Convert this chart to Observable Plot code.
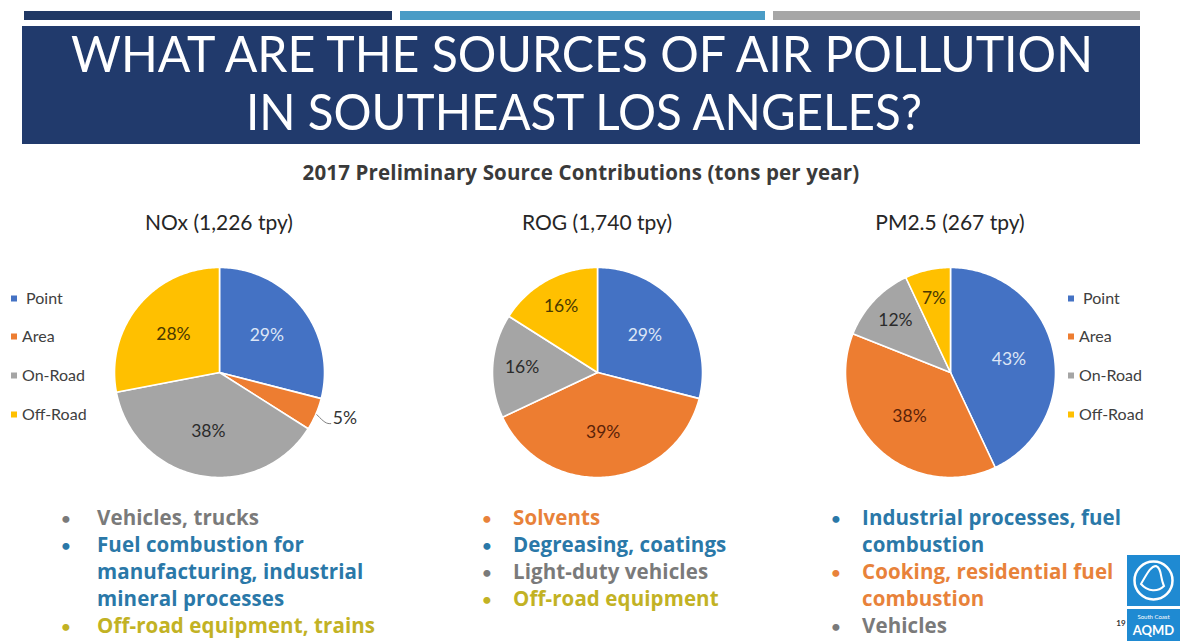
<!DOCTYPE html>
<html>
<head>
<meta charset="utf-8">
<script src="https://cdn.jsdelivr.net/npm/d3@7"></script>
<script src="https://cdn.jsdelivr.net/npm/@observablehq/plot@0.6"></script>
<style>
  html, body { margin: 0; padding: 0; background: #ffffff; }
  body { width: 1190px; height: 641px; position: relative; overflow: hidden; font-family: Lato, "Open Sans", sans-serif; }
  .abs { position: absolute; white-space: nowrap; }
  .sub { font-family: "Open Sans"; font-weight: 700; font-size: 20.5px; letter-spacing: 0.15px; color: #3a3a3a; transform: translate(-50%, -50%); }
  .ptitle { font-size: 21px; color: #262626; transform: translate(-50%, -50%); }
  .leg { font-size: 16px; color: #404040; transform: translateY(-50%); }
  .leg i { display: inline-block; width: 6px; height: 6px; margin-right: 5px; vertical-align: middle; position: relative; top: -1px; }
  .bul { font-family: "Open Sans"; font-weight: 700; font-size: 20.5px; transform: translateY(-50%); letter-spacing: 0.1px; }
  .dot { font-weight: 700; font-size: 16px; transform: translate(-50%, -50%); }
</style>
</head>
<body>
<svg class="abs" style="left:0;top:0" width="1190" height="641">
  <rect x="24" y="11" width="368" height="9" fill="#203864"/>
  <rect x="400" y="11" width="365" height="9" fill="#4a9cc6"/>
  <rect x="773" y="11" width="367" height="9" fill="#a6a6a6"/>
  <rect x="22" y="26" width="1118" height="118" fill="#213a6c"/>
  <text x="71" y="72" font-family="Lato" font-weight="400" font-size="51" fill="#ffffff" textLength="1022" lengthAdjust="spacingAndGlyphs">WHAT ARE THE SOURCES OF AIR POLLUTION</text>
  <text x="246" y="130" font-family="Lato" font-weight="400" font-size="50" fill="#ffffff" textLength="676" lengthAdjust="spacingAndGlyphs">IN SOUTHEAST LOS ANGELES?</text>
  <!-- logo -->
  <rect x="1127" y="555" width="53" height="51" fill="#1f8ad2"/>
  <circle cx="1153.5" cy="580.5" r="19" fill="none" stroke="#ffffff" stroke-width="2.5"/>
  <path d="M1141,584 C1146,576 1150,566 1156,566 C1162,568 1160,578 1164,586 C1158,592 1148,592 1141,584 Z" fill="none" stroke="#ffffff" stroke-width="2"/>
  <rect x="1127" y="609" width="53" height="32" fill="#1f8ad2"/>
  <text x="1153.5" y="619" font-family="Lato" font-size="6" fill="#ffffff" text-anchor="middle">South Coast</text>
  <text x="1153.5" y="635" font-family="Lato" font-weight="700" font-size="13" fill="#ffffff" text-anchor="middle">AQMD</text>
  <text x="1121" y="626" font-family="Lato" font-weight="700" font-size="8" fill="#333333" text-anchor="middle">19</text>
</svg>
<div id="root"></div>
<script>
// ---- data ----
const categories = ["Point", "Area", "On-Road", "Off-Road"];
const sliceColors = ["#4472C4", "#ED7D31", "#A5A5A5", "#FFC000"];
const labelColors = ["#dde6f6", "#5a2208", "#2b2b2b", "#4a3800"];
const pollutantTitles = ["NOx (1,226 tpy)", "ROG (1,740 tpy)", "PM2.5 (267 tpy)"];
const noxShares = [29, 5, 38, 28];
const rogShares = [29, 39, 16, 16];
const pmShares = [43, 38, 12, 7];
const subtitle = "2017 Preliminary Source Contributions (tons per year)";
const noxBullets = [["Vehicles, trucks", "gray"], ["Fuel combustion for", "blue"], ["manufacturing, industrial", "blue", true], ["mineral processes", "blue", true], ["Off-road equipment, trains", "yellow"]];
const rogBullets = [["Solvents", "orange"], ["Degreasing, coatings", "blue"], ["Light-duty vehicles", "gray"], ["Off-road equipment", "yellow"]];
const pmBullets = [["Industrial processes, fuel", "blue"], ["combustion", "blue", true], ["Cooking, residential fuel", "orange"], ["combustion", "orange", true], ["Vehicles", "gray"]];

// ---- layout ----
const R = 105;           // pie radius in px
const PW = 300, PH = 260;
const pieCenters = [[219, 372], [597, 372], [950, 372]];
const textColors = {gray: "#7a7a7a", blue: "#2a78a8", yellow: "#c2b224", orange: "#e8823a"};
const root = document.getElementById("root");

function addDiv(cls, left, top, html, color) {
  const d = document.createElement("div");
  d.className = "abs " + cls;
  d.style.left = left + "px";
  d.style.top = top + "px";
  if (color) d.style.color = color;
  d.innerHTML = html;
  root.appendChild(d);
  return d;
}

function piePlot(values) {
  const rows = categories.map((c, i) => ({cat: c, v: values[i]}));
  const arcs = d3.pie().sort(null).value(d => d.v)(rows);
  const total = d3.sum(values);
  const pts = [];
  const labels = [];
  const leaders = [];
  for (const a of arcs) {
    const n = Math.max(2, Math.ceil((a.endAngle - a.startAngle) / (Math.PI / 180)));
    pts.push({cat: a.data.cat, x: 0, y: 0});
    for (let k = 0; k <= n; k++) {
      const t = a.startAngle + (a.endAngle - a.startAngle) * k / n;
      pts.push({cat: a.data.cat, x: Math.sin(t), y: Math.cos(t)});
    }
    pts.push({cat: a.data.cat, x: 0, y: 0});
    const mid = (a.startAngle + a.endAngle) / 2;
    const share = a.data.v / total;
    const txt = a.data.v + "%";
    if (share < 0.06) {
      const p1 = {x: 1.01 * Math.sin(mid), y: 1.01 * Math.cos(mid)};
      const p2 = {x: 1.1 * Math.sin(mid), y: 1.1 * Math.cos(mid) - 0.05};
      const p3 = {x: p2.x + 0.05, y: p2.y};
      leaders.push(p1, p2, p3);
      labels.push({cat: "outside", x: p3.x + 0.02, y: p3.y + 0.05, text: txt});
    } else {
      const lr = share >= 0.25 ? 0.57 : 0.72;
      labels.push({cat: a.data.cat, x: lr * Math.sin(mid), y: lr * Math.cos(mid), text: txt});
    }
  }
  const textMarks = categories.map((c, i) =>
    Plot.text(labels, {filter: d => d.cat === c, x: "x", y: "y", text: "text", fill: labelColors[i], fontSize: 17.5, fontFamily: "Lato"}));
  return Plot.plot({
    width: PW, height: PH, margin: 0,
    x: {domain: [-PW / 2 / R, PW / 2 / R], axis: null},
    y: {domain: [-PH / 2 / R, PH / 2 / R], axis: null},
    color: {domain: categories, range: sliceColors},
    style: {background: "transparent", overflow: "visible"},
    marks: [
      Plot.line(pts, {x: "x", y: "y", z: "cat", fill: "cat", stroke: "#ffffff", strokeWidth: 1.6, strokeLinejoin: "round"}),
      ...textMarks,
      Plot.line(leaders, {x: "x", y: "y", stroke: "#7f7f7f", strokeWidth: 1, curve: "basis"}),
      Plot.text(labels, {filter: d => d.cat === "outside", x: "x", y: "y", text: "text", fill: "#333333", fontSize: 17.5, fontFamily: "Lato", textAnchor: "start"})
    ]
  });
}

// subtitle
addDiv("sub", 581, 172, subtitle);

// pies
[noxShares, rogShares, pmShares].forEach((vals, i) => {
  const [cx, cy] = pieCenters[i];
  const wrap = addDiv("", cx - PW / 2, cy - PH / 2, "");
  wrap.appendChild(piePlot(vals));
  addDiv("ptitle", cx, 221, pollutantTitles[i]);
});

// legends
const legendRows = [297, 335, 374, 413];
function legend(left) {
  categories.forEach((c, i) => {
    addDiv("leg", left, legendRows[i], `<i style="background:${sliceColors[i]}"></i>${i === 0 ? "&nbsp;" : ""}${c}`);
  });
}
legend(11);
legend(1068);

// bullets
function bullets(list, dotX, textX, y0, step) {
  list.forEach((b, i) => {
    const [t, col, cont] = b;
    const y = y0 + i * step;
    if (!cont) addDiv("dot", dotX, y, "&bull;", textColors[col]);
    addDiv("bul", textX, y, t, textColors[col]);
  });
}
bullets(noxBullets, 66, 97, 517, 27);
bullets(rogBullets, 487, 513, 517, 27);
bullets(pmBullets, 836, 862, 517, 27);
</script>
</body>
</html>
